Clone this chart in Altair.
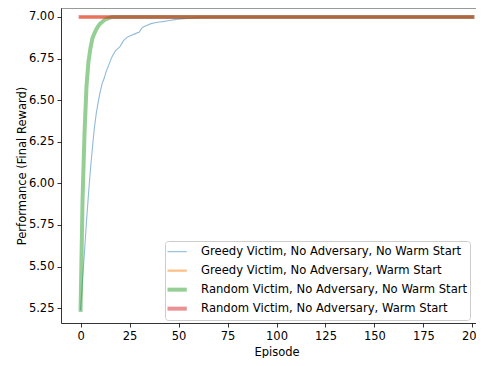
import altair as alt
import pandas as pd

SERIES = [
    "Greedy Victim, No Adversary, No Warm Start",
    "Greedy Victim, No Adversary, Warm Start",
    "Random Victim, No Adversary, No Warm Start",
    "Random Victim, No Adversary, Warm Start",
]
COLORS = ["#1f77b4", "#ff7f0e", "#2ca02c", "#d62728"]
WIDTHS = [1.1, 2.2, 4.0, 4.0]

greedy_nows_ep = [0, 1, 2, 3, 4, 5, 6, 7, 8, 9, 10, 11, 12, 13, 14, 15, 16, 17, 18, 19,
                  20, 21, 22, 23, 24, 26, 28, 30, 31, 32, 34, 36, 38, 40, 42, 44, 46, 48,
                  50, 53, 56, 60, 65, 200]
greedy_nows_val = [5.24, 5.42, 5.59, 5.77, 5.93, 6.08, 6.21, 6.33, 6.42, 6.49, 6.55, 6.60,
                   6.63, 6.67, 6.70, 6.73, 6.76, 6.78, 6.80, 6.81, 6.82, 6.84, 6.86, 6.87,
                   6.88, 6.89, 6.90, 6.91, 6.93, 6.94, 6.95, 6.96, 6.965, 6.97, 6.972,
                   6.976, 6.98, 6.984, 6.987, 6.99, 6.992, 6.996, 7.0, 7.0]

greedy_ws_ep = [0, 200]
greedy_ws_val = [7.0, 7.0]

random_nows_ep = [0, 1, 2, 3, 4, 5, 6, 7, 8, 9, 10, 11, 12, 13, 14, 15, 16, 200]
random_nows_val = [5.24, 5.90, 6.30, 6.58, 6.73, 6.81, 6.87, 6.90, 6.925, 6.945, 6.96,
                   6.97, 6.98, 6.987, 6.992, 6.996, 7.0, 7.0]

random_ws_ep = [0, 200]
random_ws_val = [7.0, 7.0]

X_TICKS = [0, 25, 50, 75, 100, 125, 150, 175, 200]
Y_TICKS = [5.25, 5.50, 5.75, 6.00, 6.25, 6.50, 6.75, 7.00]

rows = []
for name, eps, vals in zip(
    SERIES,
    [greedy_nows_ep, greedy_ws_ep, random_nows_ep, random_ws_ep],
    [greedy_nows_val, greedy_ws_val, random_nows_val, random_ws_val],
):
    for e, v in zip(eps, vals):
        rows.append({"series": name, "episode": e, "value": v})
df = pd.DataFrame(rows)

FONT = "DejaVu Sans"

width_expr = "datum.index == 0 ? %s : (datum.index == 1 ? %s : (datum.index == 2 ? %s : %s))" % tuple(WIDTHS)

legend = alt.Legend(
    title=None,
    orient="none",
    legendX=104,
    legendY=233,
    symbolType="stroke",
    symbolSize=625,
    symbolOpacity=0.5,
    symbolStrokeWidth={"expr": width_expr},
    symbolOffset=1,
    labelFont=FONT,
    labelFontSize=11.6,
    labelColor="black",
    labelOffset=21,
    clipHeight=16.3,
    rowPadding=2,
    padding=2.5,
    fillColor="white",
    strokeColor="#cccccc",
    cornerRadius=3,
    labelLimit=400,
)

x = alt.X(
    "episode:Q",
    scale=alt.Scale(domain=[-10, 210], nice=False, zero=False),
    axis=alt.Axis(values=X_TICKS, title="Episode", format="d", titlePadding=4.5),
)
y = alt.Y(
    "value:Q",
    scale=alt.Scale(domain=[5.161, 7.054], nice=False, zero=False),
    axis=alt.Axis(values=Y_TICKS, format=".2f", title="Performance (Final Reward)",
                  titlePadding=1),
)
color = alt.Color("series:N", scale=alt.Scale(domain=SERIES, range=COLORS), legend=legend)

layers = []
for name, w in zip(SERIES, WIDTHS):
    layers.append(
        alt.Chart(df)
        .transform_filter(alt.datum.series == name)
        .mark_line(strokeCap="square", opacity=0.5, strokeWidth=w, clip=True)
        .encode(x=x, y=y, color=color)
    )

top = alt.Chart(pd.DataFrame({"a": [0]})).mark_rule(color="black", strokeWidth=0.8).encode(
    x=alt.value(0), x2=alt.value("width"), y=alt.value(0)
)

chart = (
    alt.layer(*layers, top)
    .properties(
        width=431,
        height=315,
        autosize=alt.AutoSizeParams(type="none"),
        padding={"left": 53, "top": 0, "right": -16, "bottom": 35},
    )
    .configure_view(stroke=None)
    .configure_axis(
        grid=False,
        domainColor="black",
        domainWidth=0.8,
        tickColor="black",
        tickWidth=0.8,
        tickSize=4,
        labelFont=FONT,
        labelFontSize=11.5,
        labelColor="black",
        labelPadding=3,
        titleFont=FONT,
        titleFontSize=11.5,
        titleFontWeight="normal",
        titleColor="black",
    )
)

chart.save("out.html", embed_options={"renderer": "svg", "actions": False})
